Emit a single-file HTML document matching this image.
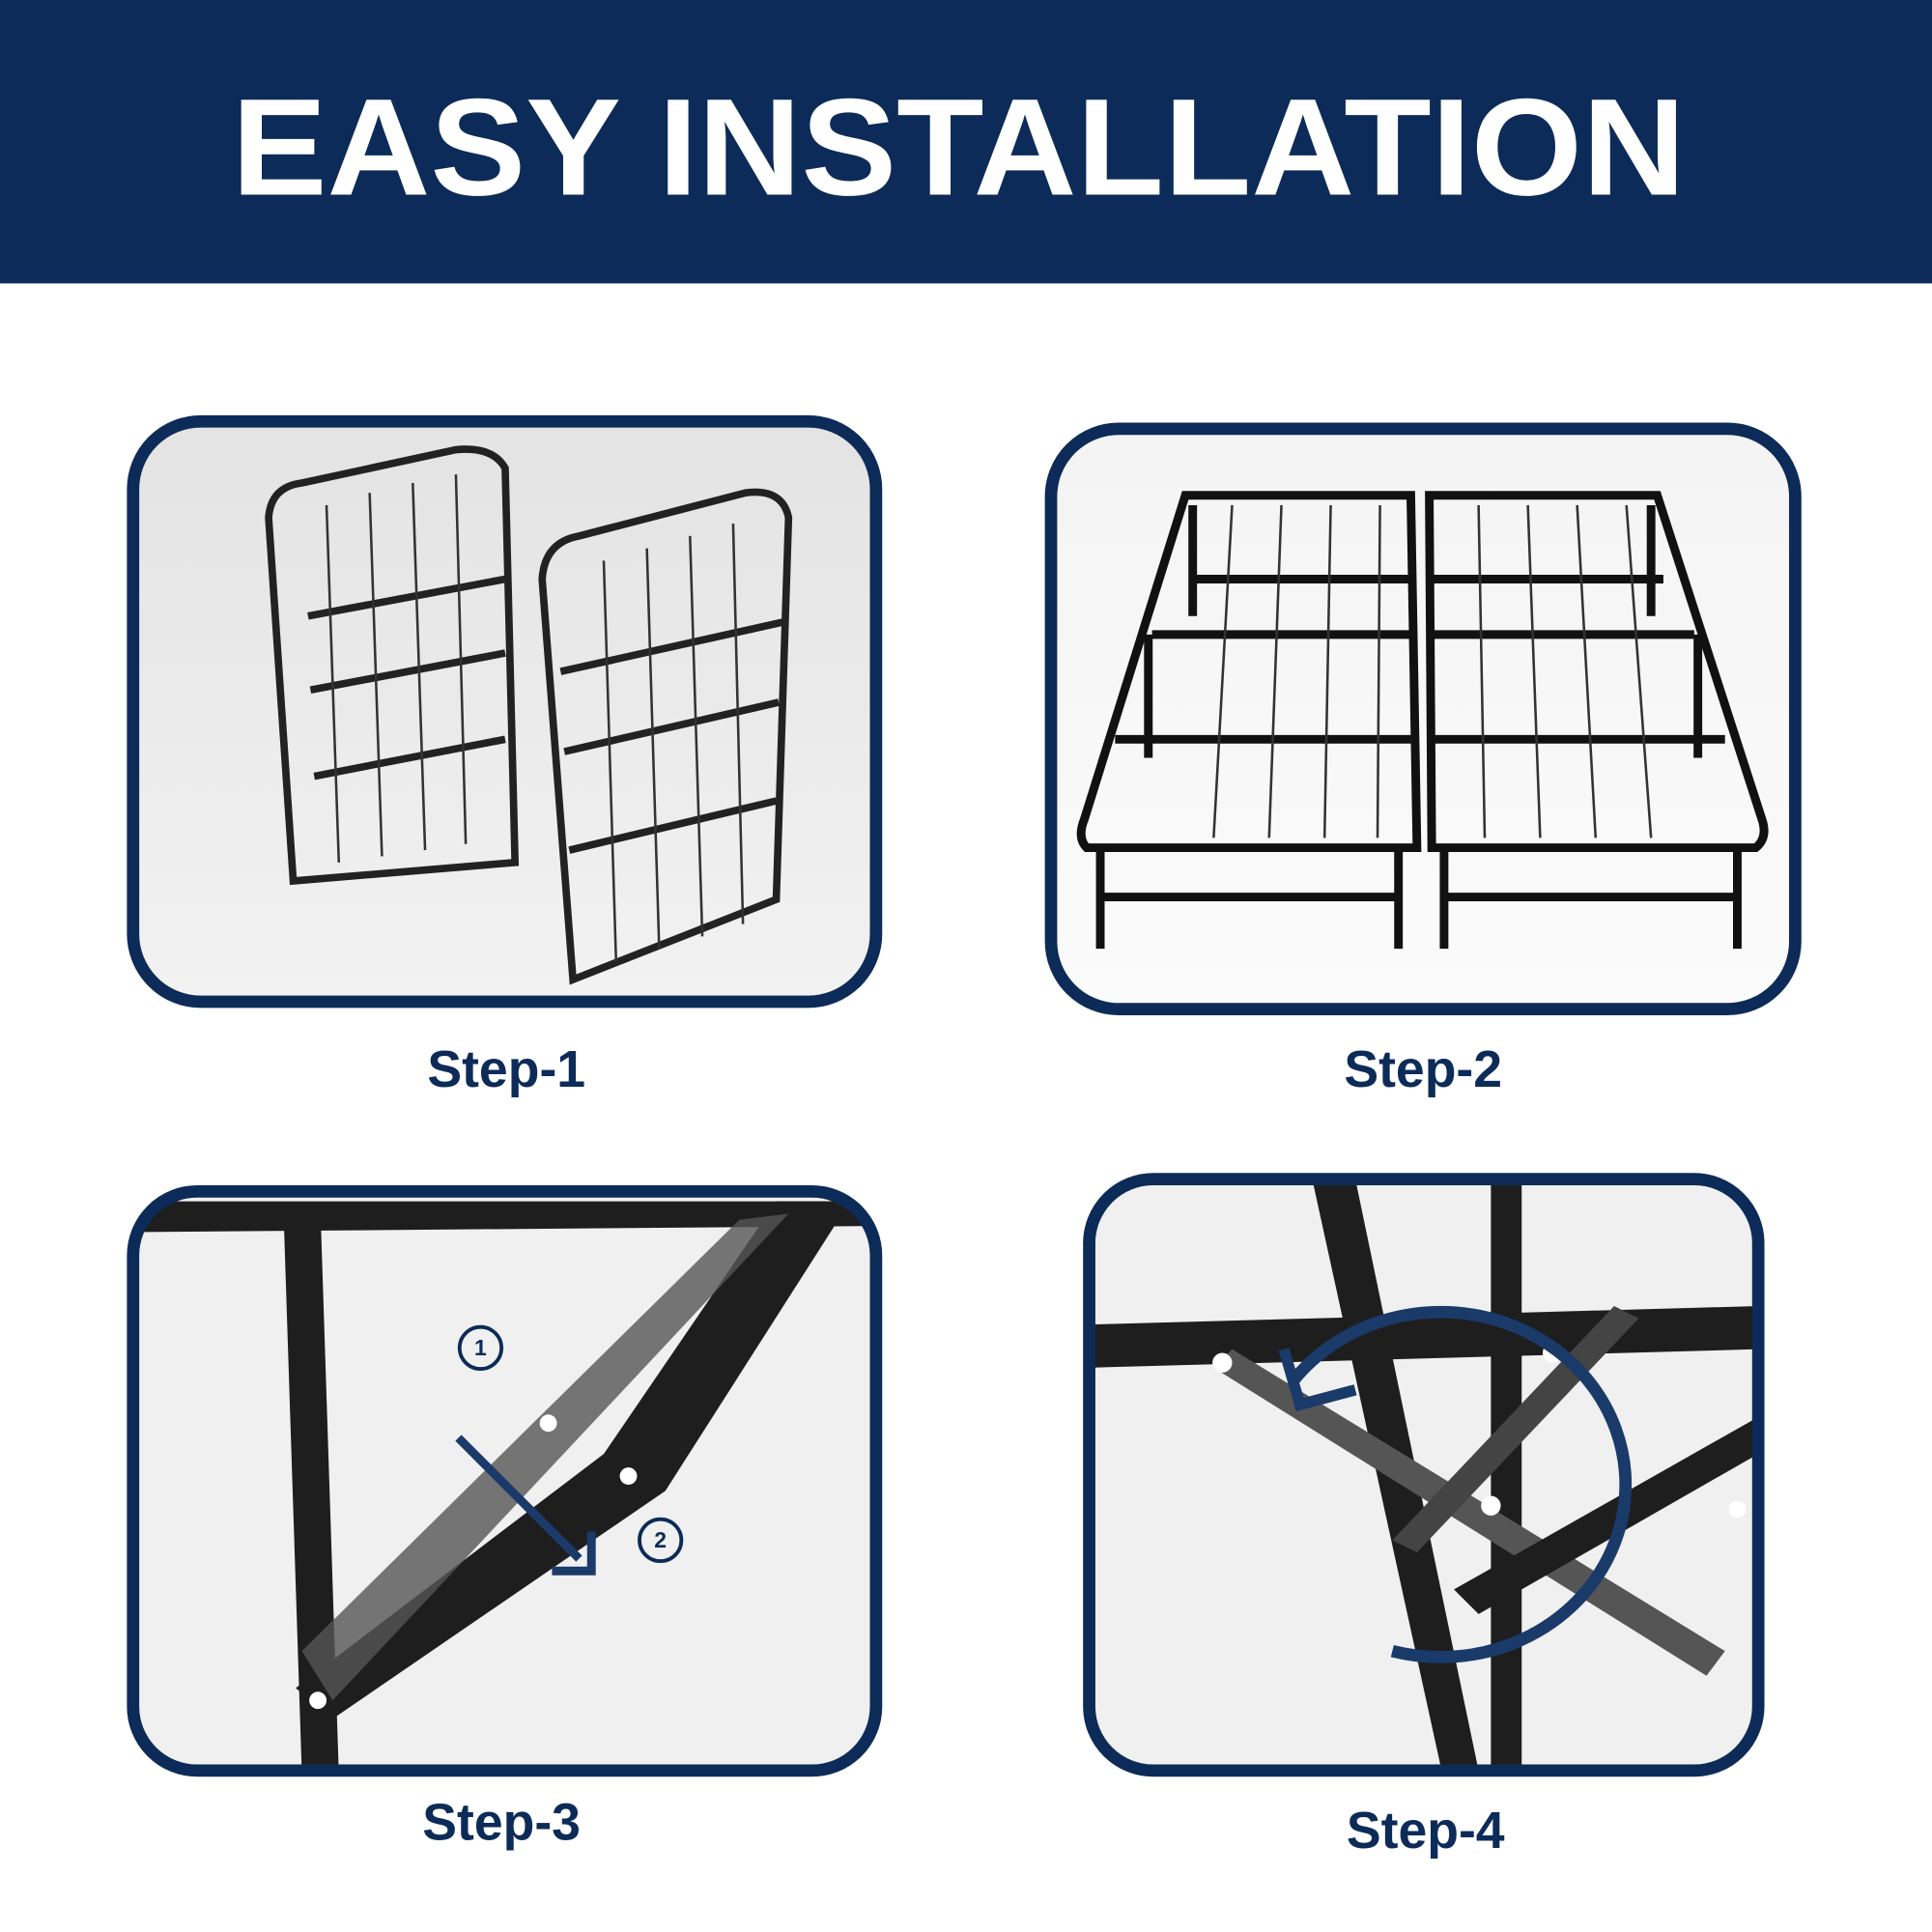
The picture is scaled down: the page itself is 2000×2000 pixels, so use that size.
<!DOCTYPE html>
<html><head><style>html,body{margin:0;padding:0;background:#fff}svg{display:block}</style></head>
<body>
<svg width="2000" height="2000" viewBox="0 0 1568 1568" xmlns="http://www.w3.org/2000/svg">
<defs>
<linearGradient id="g1" x1="0" y1="0" x2="0" y2="1"><stop offset="0" stop-color="#e3e3e3"/><stop offset="1" stop-color="#f2f2f2"/></linearGradient>
<linearGradient id="g2" x1="0" y1="0" x2="0" y2="1"><stop offset="0" stop-color="#f4f4f4"/><stop offset="1" stop-color="#fbfbfb"/></linearGradient>
<clipPath id="c3"><rect x="108" y="967" width="603" height="470" rx="52"/></clipPath>
<clipPath id="c4"><rect x="884" y="957" width="543" height="480" rx="52"/></clipPath>
</defs>
<rect x="0" y="0" width="1568" height="230" fill="#0c2b58"/>
<text x="778" y="158" text-anchor="middle" font-family="Liberation Sans, sans-serif" font-weight="bold" font-size="112" fill="#fff" textLength="1180" lengthAdjust="spacingAndGlyphs">EASY INSTALLATION</text>

<!-- panel 1 -->
<rect x="108" y="342" width="603" height="471" rx="55" fill="url(#g1)" stroke="#0c2b58" stroke-width="10"/>
<g fill="none" stroke="#222" stroke-width="6">
<path d="M238 715 L218 420 Q220 395 245 392 L370 365 Q400 362 410 380 L418 700 Z"/>
<path d="M250 500 L410 470 M252 560 L410 530 M255 630 L410 600"/>
<path d="M465 795 L440 470 Q442 440 470 435 L605 400 Q635 396 640 420 L630 730 Z"/>
<path d="M455 545 L635 505 M458 610 L632 570 M462 690 L630 650"/>
</g>
<g stroke="#333" stroke-width="2">
<path d="M265 410 L275 700 M300 400 L310 695 M335 392 L345 690 M370 385 L378 685"/>
<path d="M490 455 L500 780 M525 445 L535 770 M560 435 L570 760 M595 425 L603 750"/>
</g>

<!-- panel 2 -->
<rect x="853" y="348" width="604" height="471" rx="55" fill="url(#g2)" stroke="#0c2b58" stroke-width="10"/>
<g fill="none" stroke="#111" stroke-width="7">
<path d="M962 402 L1145 402 L1150 688 L882 688 Q874 680 880 665 Z"/>
<path d="M1160 402 L1345 402 L1430 665 Q1435 680 1425 688 L1162 688 Z"/>
<path d="M935 515 L1145 515 M1162 515 L1375 515 M905 600 L1145 600 M1162 600 L1400 600 M965 470 L1145 470 M1162 470 L1350 470"/>
<path d="M893 688 L893 770 M1135 688 L1135 770 M1172 688 L1172 770 M1410 688 L1410 770 M893 728 L1135 728 M1172 728 L1410 728 M932 515 L932 615 M1378 515 L1378 615 M968 410 L968 500 M1340 410 L1340 500"/>
</g>
<g stroke="#333" stroke-width="2">
<path d="M1000 410 L985 680 M1040 410 L1030 680 M1080 410 L1075 680 M1120 410 L1118 680 M1200 410 L1205 680 M1240 410 L1250 680 M1280 410 L1295 680 M1320 410 L1340 680"/>
</g>

<!-- panel 3 -->
<g clip-path="url(#c3)">
<rect x="108" y="967" width="603" height="470" fill="#f0f0f0"/>
<path d="M230 980 L260 980 L275 1440 L245 1440 Z" fill="#1e1e1e"/>
<path d="M108 975 L711 975 L711 995 L108 1000 Z" fill="#1e1e1e"/>
<path d="M240 1370 L270 1395 L540 1210 L690 975 L630 975 L490 1180 Z" fill="#1e1e1e"/>
<path d="M245 1340 L600 990 L640 985 L270 1380 Z" fill="#555" opacity="0.8"/>
<circle cx="258" cy="1380" r="7" fill="#fff"/><circle cx="510" cy="1198" r="7" fill="#fff"/><circle cx="445" cy="1155" r="7" fill="#fff"/>
</g>
<rect x="108" y="967" width="603" height="470" rx="52" fill="none" stroke="#0c2b58" stroke-width="10"/>
<g fill="none" stroke="#0c2b58" stroke-width="3"><circle cx="390" cy="1094" r="17"/><circle cx="536" cy="1250" r="17"/></g>
<text x="390" y="1100" text-anchor="middle" font-family="Liberation Sans, sans-serif" font-weight="bold" font-size="18" fill="#0c2b58">1</text>
<text x="536" y="1256" text-anchor="middle" font-family="Liberation Sans, sans-serif" font-weight="bold" font-size="18" fill="#0c2b58">2</text>
<path d="M372 1167 L470 1265 M448 1275 L480 1275 L480 1243" fill="none" stroke="#1a3a6a" stroke-width="7"/>

<!-- panel 4 -->
<g clip-path="url(#c4)">
<rect x="884" y="957" width="543" height="480" fill="#f0f0f0"/>
<path d="M884 1075 L1427 1060 L1427 1095 L884 1110 Z" fill="#1e1e1e"/>
<path d="M1065 957 L1100 957 L1200 1437 L1170 1437 Z" fill="#1e1e1e"/>
<path d="M1210 960 L1235 960 L1235 1437 L1210 1437 Z" fill="#1e1e1e"/>
<path d="M985 1110 L1000 1095 L1400 1340 L1385 1360 Z" fill="#555"/>
<path d="M1180 1290 L1200 1310 L1427 1180 L1427 1150 Z" fill="#1e1e1e"/>
<path d="M1130 1250 L1150 1260 L1330 1070 L1310 1060 Z" fill="#444"/>
<circle cx="992" cy="1106" r="8" fill="#fff"/><circle cx="1210" cy="1222" r="8" fill="#fff"/><circle cx="1260" cy="1098" r="8" fill="#fff"/><circle cx="1410" cy="1225" r="7" fill="#fff"/>
<path d="M1050 1120 A150 140 0 1 1 1130 1340" fill="none" stroke="#1a3a6a" stroke-width="10"/>
<path d="M1042 1095 L1055 1140 L1100 1128" fill="none" stroke="#1a3a6a" stroke-width="9"/>
</g>
<rect x="884" y="957" width="543" height="480" rx="52" fill="none" stroke="#0c2b58" stroke-width="10"/>

<g font-family="Liberation Sans, sans-serif" font-weight="bold" font-size="42" fill="#0c2b58" text-anchor="middle">
<text x="411" y="882">Step-1</text>
<text x="1155" y="882">Step-2</text>
<text x="407" y="1493">Step-3</text>
<text x="1157" y="1500">Step-4</text>
</g>
</svg>
</body></html>
